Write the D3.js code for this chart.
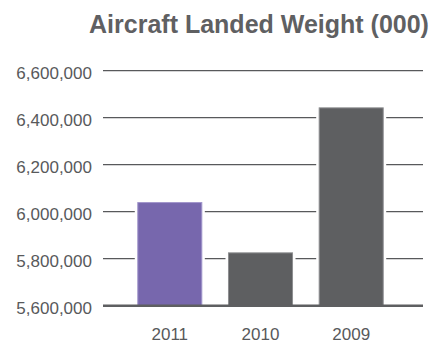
<!DOCTYPE html>
<html>
<head>
<meta charset="utf-8">
<script src="https://cdn.jsdelivr.net/npm/d3@7"></script>
<style>
  html, body { margin: 0; padding: 0; background: #fff; }
  svg { display: block; font-family: "Liberation Sans", Arial, Helvetica, sans-serif; }
</style>
</head>
<body>
<svg id="chart" width="436" height="345"></svg>
<script>
// Landed weight by year, in thousands
const years = ["2011", "2010", "2009"];
const weights = [6041000, 5827000, 6444000];
const barColors = ["#7767ad", "#5e5f61", "#5e5f61"];
const barEdges = ["#a195cb", "#8e8f91", "#8e8f91"];
const yTicks = [5600000, 5800000, 6000000, 6200000, 6400000, 6600000];
const titleText = "Aircraft Landed Weight (000)";

const svg = d3.select("#chart");
const gridLeft = 103, gridRight = 423;

const y = d3.scaleLinear().domain([5600000, 6600000]).range([305.7, 70.7]);
const x = d3.scaleBand().domain(years).range([103, 418])
  .paddingInner(0.283).paddingOuter(0.378);

const fmt = d3.format(",");

// title
svg.append("text")
  .attr("x", 259).attr("y", 33)
  .attr("text-anchor", "middle")
  .attr("font-size", 25).attr("font-weight", "bold")
  .attr("fill", "#5f6062")
  .text(titleText);

// gridlines (baseline drawn later, over the white gaps)
svg.append("g").selectAll("line")
  .data(yTicks.filter(t => t !== 5600000))
  .join("line")
  .attr("x1", gridLeft).attr("x2", gridRight)
  .attr("y1", d => y(d)).attr("y2", d => y(d))
  .attr("stroke", "#58595b").attr("stroke-width", 1.3);

// y tick labels
svg.append("g").selectAll("text")
  .data(yTicks)
  .join("text")
  .attr("x", 92).attr("y", d => y(d) + 8.3)
  .attr("text-anchor", "end")
  .attr("font-size", 17)
  .attr("fill", "#58595b")
  .text(d => fmt(d));

// white clearance around each bar
svg.append("g").selectAll("rect")
  .data(weights)
  .join("rect")
  .attr("x", (d, i) => x(years[i]) - 2.5)
  .attr("width", x.bandwidth() + 5)
  .attr("y", d => y(d) - 2.5)
  .attr("height", d => y(5600000) - y(d) + 2.5)
  .attr("fill", "#fff");

// bars
svg.append("g").selectAll("rect")
  .data(weights)
  .join("rect")
  .attr("x", (d, i) => x(years[i]) + 0.5)
  .attr("width", x.bandwidth() - 1)
  .attr("y", d => y(d) + 0.5)
  .attr("height", d => y(5600000) - y(d) - 0.5)
  .attr("fill", (d, i) => barColors[i])
  .attr("stroke", (d, i) => barEdges[i])
  .attr("stroke-width", 1);

// baseline
svg.append("line")
  .attr("x1", gridLeft).attr("x2", gridRight)
  .attr("y1", y(5600000)).attr("y2", y(5600000))
  .attr("stroke", "#5e5f61").attr("stroke-width", 2.4);

// x labels
svg.append("g").selectAll("text")
  .data(years)
  .join("text")
  .attr("x", d => x(d) + x.bandwidth() / 2)
  .attr("y", 340)
  .attr("text-anchor", "middle")
  .attr("font-size", 17)
  .attr("fill", "#58595b")
  .text(d => d);
</script>
</body>
</html>
